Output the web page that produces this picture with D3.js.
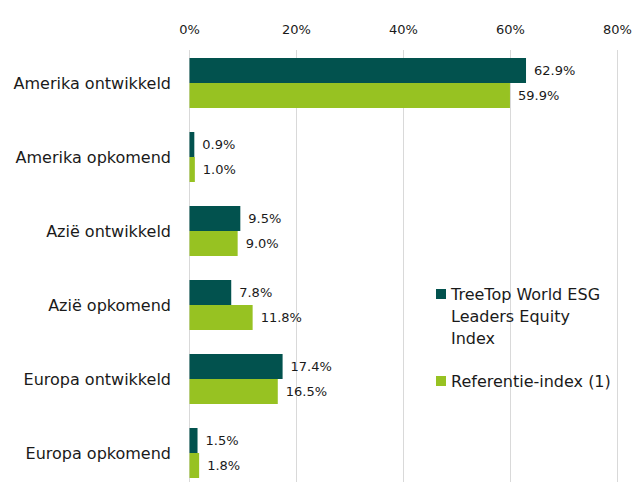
<!DOCTYPE html>
<html>
<head>
<meta charset="utf-8">
<script src="https://cdn.jsdelivr.net/npm/d3@7"></script>
<style>
  body { margin: 0; background: #fff; }
  text { font-family: "DejaVu Sans", sans-serif; fill: #1a1a1a; }
</style>
</head>
<body>
<div id="chart"></div>
<script>
const categories = ["Amerika ontwikkeld", "Amerika opkomend", "Azië ontwikkeld", "Azië opkomend", "Europa ontwikkeld", "Europa opkomend"];
const treeTop = [62.9, 0.9, 9.5, 7.8, 17.4, 1.5];
const referentie = [59.9, 1.0, 9.0, 11.8, 16.5, 1.8];
const seriesNames = ["TreeTop World ESG Leaders Equity Index", "Referentie-index (1)"];
const ticks = [0, 20, 40, 60, 80];

const width = 633, height = 482;
const colors = ["#02524e", "#97c222"];

const svg = d3.select("#chart").append("svg")
  .attr("width", width)
  .attr("height", height);

const x = d3.scaleLinear().domain([0, 80]).range([189.5, 617.5]);

const y = d3.scaleBand()
  .domain(categories)
  .range([46, 490])
  .paddingInner(24 / 74)
  .paddingOuter(12 / 74);

const sub = d3.scaleBand()
  .domain([0, 1])
  .range([0, y.bandwidth()]);

// gridlines
svg.append("g")
  .selectAll("line")
  .data(ticks)
  .join("line")
  .attr("x1", d => x(d)).attr("x2", d => x(d))
  .attr("y1", 50).attr("y2", height)
  .attr("stroke", "#d9d9d9")
  .attr("stroke-width", 1);

// top axis labels
svg.append("g")
  .selectAll("text")
  .data(ticks)
  .join("text")
  .attr("x", d => x(d))
  .attr("y", 34)
  .attr("text-anchor", "middle")
  .attr("font-size", 13)
  .text(d => d + "%");

// category labels
svg.append("g")
  .selectAll("text")
  .data(categories)
  .join("text")
  .attr("x", 171)
  .attr("y", d => y(d) + y.bandwidth() / 2)
  .attr("dy", "0.35em")
  .attr("text-anchor", "end")
  .attr("font-size", 16)
  .text(d => d);

const rows = [];
categories.forEach((c, i) => {
  rows.push({ cat: c, s: 0, v: treeTop[i] });
  rows.push({ cat: c, s: 1, v: referentie[i] });
});

svg.append("g")
  .selectAll("rect")
  .data(rows)
  .join("rect")
  .attr("x", x(0))
  .attr("y", d => y(d.cat) + sub(d.s))
  .attr("width", d => x(d.v) - x(0))
  .attr("height", sub.bandwidth())
  .attr("fill", d => colors[d.s]);

svg.append("g")
  .selectAll("text")
  .data(rows)
  .join("text")
  .attr("x", d => x(d.v) + 8)
  .attr("y", d => y(d.cat) + sub(d.s) + sub.bandwidth() / 2)
  .attr("dy", "0.35em")
  .attr("font-size", 13)
  .text(d => d.v.toFixed(1) + "%");

// legend
const legend = svg.append("g");
const legendLines = [["TreeTop World ESG", "Leaders Equity", "Index"], ["Referentie-index (1)"]];
const legendY = [294, 381];
legendLines.forEach((lines, i) => {
  legend.append("rect")
    .attr("x", 436).attr("y", legendY[i] - 5)
    .attr("width", 10).attr("height", 10)
    .attr("fill", colors[i]);
  legend.append("text")
    .attr("x", 451)
    .attr("y", legendY[i])
    .attr("font-size", 16)
    .selectAll("tspan")
    .data(lines)
    .join("tspan")
    .attr("x", 451)
    .attr("dy", (d, j) => j === 0 ? "0.35em" : "1.375em")
    .text(d => d);
});
</script>
</body>
</html>
